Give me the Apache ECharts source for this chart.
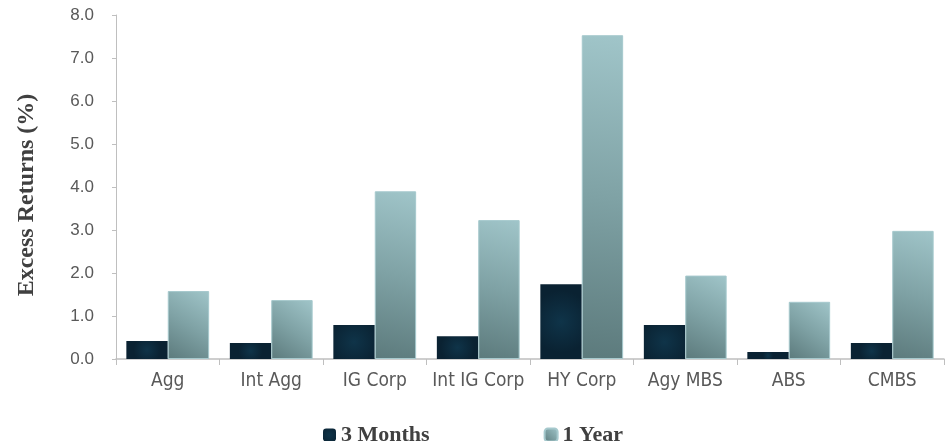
<!DOCTYPE html>
<html>
<head>
<meta charset="utf-8">
<script src="https://cdn.jsdelivr.net/npm/echarts@6/dist/echarts.min.js"></script>
<style>
  html, body { margin: 0; padding: 0; background: #ffffff; }
  #chart { width: 947px; height: 441px; }
</style>
</head>
<body>
<div id="chart"></div>
<script>
// Sector excess returns, in percent
const categories = ['Agg', 'Int Agg', 'IG Corp', 'Int IG Corp', 'HY Corp', 'Agy MBS', 'ABS', 'CMBS'];
const threeMonths = [0.42, 0.37, 0.79, 0.53, 1.74, 0.79, 0.16, 0.37];
const oneYear = [1.58, 1.37, 3.90, 3.23, 7.53, 1.94, 1.33, 2.98];
const seriesNames = ['3 Months', '1 Year'];

const darkFill = {
  type: 'radial', x: 0.5, y: 0.5, r: 0.75,
  colorStops: [
    { offset: 0, color: '#0f3449' },
    { offset: 1, color: '#0a2232' }
  ]
};
const lightFill = {
  type: 'linear', x: 0, y: 1, x2: 1, y2: 0,
  colorStops: [
    { offset: 0, color: '#5c7a7c' },
    { offset: 0.5, color: '#7fa2a5' },
    { offset: 1, color: '#a0c5c9' }
  ]
};

const chart = echarts.init(document.getElementById('chart'), null, { renderer: 'canvas' });
chart.setOption({
  animation: false,
  grid: { left: 116, right: 3, top: 15, bottom: 82 },
  legend: {
    data: seriesNames,
    left: 318,
    top: 419,
    itemWidth: 13,
    itemHeight: 13,
    itemGap: 114,
    textStyle: {
      fontFamily: '"Liberation Serif", serif',
      fontWeight: 'bold',
      fontSize: 22,
      color: '#404040'
    }
  },
  xAxis: {
    type: 'category',
    data: categories,
    axisLine: { lineStyle: { color: '#bfbfbf', width: 1.5 } },
    axisTick: { show: true, length: 6, lineStyle: { color: '#bfbfbf' } },
    axisLabel: {
      interval: 0,
      margin: 13,
      fontFamily: '"DejaVu Sans Condensed", "Liberation Sans Narrow", sans-serif',
      fontSize: 19,
      color: '#595959'
    }
  },
  yAxis: {
    type: 'value',
    min: 0,
    max: 8,
    interval: 1,
    name: 'Excess Returns (%)',
    nameLocation: 'middle',
    nameGap: 77,
    nameTextStyle: {
      fontFamily: '"Liberation Serif", serif',
      fontWeight: 'bold',
      fontSize: 24,
      color: '#404040',
      padding: [0, 16, 0, 0]
    },
    axisLine: { show: true, lineStyle: { color: '#bfbfbf' } },
    axisTick: { show: true, length: 4, lineStyle: { color: '#bfbfbf' } },
    splitLine: { show: false },
    axisLabel: {
      margin: 22,
      formatter: v => v.toFixed(1),
      fontFamily: '"Liberation Sans", Arial, sans-serif',
      fontSize: 17,
      color: '#595959'
    }
  },
  series: [
    {
      name: seriesNames[0],
      type: 'bar',
      data: threeMonths,
      barGap: '0%',
      barCategoryGap: '20%',
      itemStyle: { color: darkFill }
    },
    {
      name: seriesNames[1],
      type: 'bar',
      data: oneYear,
      itemStyle: { color: lightFill, borderColor: '#a6c9cd', borderWidth: 1 }
    }
  ]
});
</script>
</body>
</html>
